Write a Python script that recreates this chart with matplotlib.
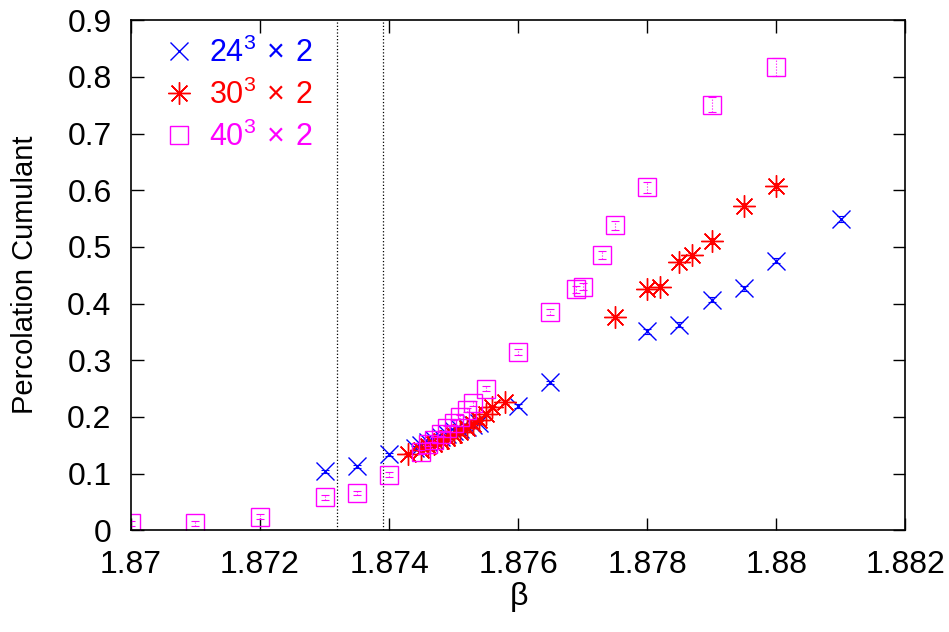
import numpy as np
import matplotlib.pyplot as plt

plt.rcParams['font.family'] = ['Liberation Sans', 'DejaVu Sans']
plt.rcParams['mathtext.fontset'] = 'custom'
plt.rcParams['mathtext.rm'] = 'Liberation Sans'

# 24^3 x 2
beta_24 = [1.873, 1.8735, 1.874, 1.8744, 1.8745, 1.8746, 1.8747, 1.8748, 1.8749, 1.875,
           1.8751, 1.8752, 1.8753, 1.8754, 1.876, 1.8765, 1.878, 1.8785, 1.879, 1.8795,
           1.88, 1.881]
pc_24 = [0.104, 0.113, 0.134, 0.145, 0.15, 0.155, 0.16, 0.165, 0.17, 0.175,
         0.179, 0.182, 0.185, 0.19, 0.219, 0.261, 0.351, 0.363, 0.407, 0.427,
         0.476, 0.549]
err_24 = [0.003, 0.003, 0.003, 0.003, 0.003, 0.003, 0.003, 0.003, 0.003, 0.003,
          0.003, 0.003, 0.003, 0.003, 0.003, 0.003, 0.004, 0.004, 0.004, 0.004,
          0.005, 0.005]

# 30^3 x 2
beta_30 = [1.8743, 1.8745, 1.8746, 1.8747, 1.8748, 1.8749, 1.875, 1.8751, 1.8752, 1.8753,
           1.8754, 1.8755, 1.8756, 1.8758, 1.8775, 1.878, 1.8782, 1.8785, 1.8787, 1.879,
           1.8795, 1.88]
pc_30 = [0.134, 0.142, 0.148, 0.153, 0.158, 0.163, 0.168, 0.174, 0.18, 0.187,
         0.195, 0.205, 0.217, 0.226, 0.376, 0.425, 0.43, 0.474, 0.485, 0.51,
         0.573, 0.607]
err_30 = [0.003] * 14 + [0.004, 0.004, 0.004, 0.004, 0.005, 0.005, 0.005, 0.006]

# 40^3 x 2
beta_40 = [1.87, 1.871, 1.872, 1.873, 1.8735, 1.874, 1.8745, 1.8746, 1.8747, 1.8748,
           1.8749, 1.875, 1.8751, 1.8752, 1.8753, 1.8755, 1.876, 1.8765, 1.8769, 1.877,
           1.8773, 1.8775, 1.878, 1.879, 1.88]
pc_40 = [0.012, 0.012, 0.024, 0.058, 0.066, 0.098, 0.138, 0.152, 0.16, 0.17,
         0.18, 0.19, 0.2, 0.212, 0.224, 0.25, 0.315, 0.385, 0.425, 0.43,
         0.485, 0.538, 0.605, 0.751, 0.817]
err_40 = [0.004] * 16 + [0.005, 0.005, 0.006, 0.006, 0.007, 0.008, 0.01, 0.013, 0.016]

vlines = [1.8732, 1.8739]

fig = plt.figure(figsize=(9.49, 6.32), dpi=100)
ax = fig.add_axes([0.138, 0.161, 0.816, 0.807])

for x in vlines:
    ax.axvline(x, color='black', linestyle=':', linewidth=0.9)

def draw(b, p, e, color, marker, ms, label):
    eb = ax.errorbar(b, p, yerr=e, fmt='none', ecolor=color, elinewidth=0.8,
                     capsize=3, capthick=0.8)
    for c in eb[2]:
        c.set_linestyle(':')
    ax.plot(b, p, linestyle='none', marker=marker, markersize=ms, color=color,
            markerfacecolor='none', markeredgewidth=1.0, label=label)

draw(beta_24, pc_24, err_24, 'blue', 'x', 12.5, r'$\mathregular{24^3\,\times\,2}$')
draw(beta_30, pc_30, err_30, 'red', (8, 2, 0), 16, r'$\mathregular{30^3\,\times\,2}$')
draw(beta_40, pc_40, err_40, 'magenta', 's', 12.5, r'$\mathregular{40^3\,\times\,2}$')

ax.set_xlim(1.87, 1.882)
ax.set_ylim(0, 0.9)
ax.set_xticks([1.87, 1.872, 1.874, 1.876, 1.878, 1.88, 1.882])
ax.set_xticklabels(['1.87', '1.872', '1.874', '1.876', '1.878', '1.88', '1.882'])
ax.set_yticks(np.arange(0, 0.91, 0.1))
ax.set_yticklabels(['0', '0.1', '0.2', '0.3', '0.4', '0.5', '0.6', '0.7', '0.8', '0.9'])
ax.tick_params(direction='in', length=9, width=1, labelsize=23, top=True, right=True, pad=14)
for s in ax.spines.values():
    s.set_linewidth(1.2)

ax.set_xlabel(r'$\mathregular{\beta}$', fontsize=23, labelpad=0)
ax.set_ylabel('Percolation Cumulant', fontsize=21, labelpad=20)

ax.legend(loc='upper left', frameon=False, fontsize=22, labelcolor='linecolor',
          handlelength=0.8, handletextpad=0.6, labelspacing=0.35,
          borderaxespad=0.0, bbox_to_anchor=(0.03, 0.99))

fig.savefig('out.png', dpi=100)
